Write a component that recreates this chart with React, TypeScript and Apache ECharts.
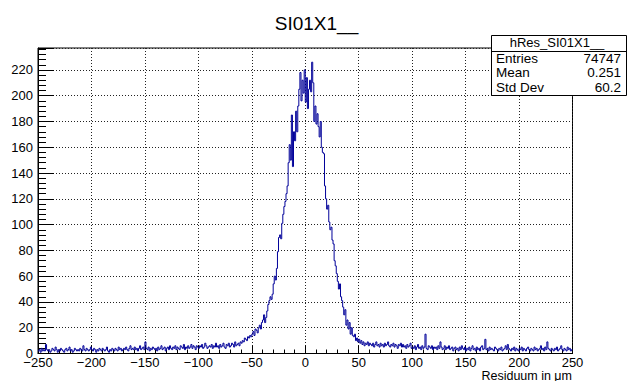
import React, { useEffect, useRef } from "react";
import * as echarts from "echarts";

const chartTitle = "SI01X1__";
const xAxisTitle = "Residuum in μm";
const xMin = -250;
const xMax = 250;
const binWidth = 1;
const xInterval = 50;
const yMin = 0;
const yMax = 237;
const yInterval = 20;

const statsName = "hRes_SI01X1__";
const statsLabels = ["Entries", "Mean", "Std Dev"];
const statsValues = ["74747", "0.251", "60.2"];

// bin contents, one per 1 µm bin, starting at -250
const counts = [
  2, 3, 1, 4, 2, 3, 2, 7, 3, 2,
  3, 1, 2, 4, 3, 2, 5, 3, 1, 3,
  2, 4, 3, 2, 1, 3, 4, 2, 3, 5,
  2, 3, 1, 2, 4, 3, 2, 3, 2, 4,
  3, 2, 6, 3, 2, 4, 3, 2, 3, 5,
  3, 2, 4, 3, 1, 3, 2, 4, 3, 2,
  4, 3, 2, 3, 5, 2, 1, 3, 2, 4,
  3, 2, 4, 3, 2, 5, 3, 4, 2, 3,
  4, 3, 5, 3, 2, 4, 6, 3, 4, 3,
  5, 3, 4, 2, 4, 6, 3, 4, 5, 3,
  9, 4, 3, 5, 2, 4, 3, 5, 4, 3,
  4, 2, 5, 3, 4, 6, 3, 4, 5, 2,
  4, 5, 3, 6, 4, 3, 5, 4, 6, 3,
  5, 4, 3, 6, 5, 4, 7, 3, 5, 4,
  6, 4, 5, 7, 4, 6, 5, 3, 6, 5,
  4, 6, 5, 7, 4, 5, 8, 6, 4, 5,
  6, 5, 7, 4, 6, 5, 8, 5, 6, 4,
  7, 5, 6, 8, 5, 4, 7, 6, 8, 5,
  6, 8, 7, 5, 9, 6, 7, 8, 6, 9,
  8, 10, 9, 12, 11, 10, 13, 12, 14, 13,
  15, 17, 14, 19, 18, 16, 20, 22, 19, 24,
  26, 30, 24, 28, 33, 38, 41, 44, 42, 46,
  54, 60, 57, 66, 79, 90, 92, 89, 101, 108,
  114, 118, 124, 130, 148, 162, 150, 185, 145, 172,
  165, 188, 172, 192, 205, 218, 196, 212, 202, 220,
  195, 214, 190, 205, 212, 203, 226, 210, 180, 192,
  178, 186, 176, 168, 180, 160, 156, 155, 130, 120,
  112, 115, 102, 96, 98, 88, 85, 72, 68, 62,
  56, 50, 54, 44, 41, 36, 30, 34, 22, 26,
  19, 24, 15, 20, 14, 13, 15, 10, 12, 9,
  11, 8, 10, 7, 9, 6, 8, 7, 9, 6,
  8, 7, 6, 8, 5, 7, 9, 6, 7, 5,
  8, 6, 7, 5, 8, 6, 7, 9, 6, 5,
  7, 6, 8, 5, 7, 6, 4, 7, 6, 8,
  5, 7, 5, 6, 4, 7, 5, 6, 8, 4,
  5, 4, 6, 3, 5, 7, 4, 5, 3, 6,
  4, 5, 15, 4, 3, 6, 5, 4, 6, 3,
  5, 4, 5, 3, 6, 4, 9, 5, 3, 4,
  6, 3, 5, 4, 6, 3, 4, 5, 2, 4,
  5, 3, 4, 2, 5, 3, 6, 4, 3, 5,
  2, 4, 3, 5, 2, 4, 6, 3, 4, 2,
  5, 3, 4, 2, 5, 6, 3, 4, 11, 3,
  4, 2, 5, 3, 4, 3, 2, 5, 4, 3,
  2, 4, 3, 5, 2, 3, 4, 6, 3, 7,
  4, 3, 2, 4, 3, 5, 2, 4, 3, 2,
  4, 3, 5, 2, 4, 3, 2, 4, 5, 3,
  2, 4, 3, 2, 5, 3, 4, 2, 3, 4,
  6, 3, 4, 2, 5, 3, 9, 4, 3, 2,
  4, 3, 2, 4, 3, 5, 2, 3, 4, 6,
  3, 2, 4, 3, 2, 5, 3, 4, 2, 3,
];

const FONT = "'Liberation Sans', Arial, Helvetica, sans-serif";
const minus = (v: number) => String(v).replace("-", "\u2212");

export default function App() {
  const ref = useRef<HTMLDivElement>(null);

  useEffect(() => {
    document.body.style.margin = "0";
    const chart = echarts.init(ref.current!, null, { renderer: "svg" });
    const data: number[][] = counts.map((c, i) => [xMin + i * binWidth, c]);
    data.push([xMin + counts.length * binWidth, counts[counts.length - 1]]);

    const rowY = [58, 72.5, 87];
    const statsGraphics: any[] = [];
    statsLabels.forEach((lab, i) => {
      statsGraphics.push({
        type: "text",
        x: 496,
        y: rowY[i],
        z: 101,
        style: { text: lab, align: "left", verticalAlign: "middle", fontSize: 13.5, fill: "#000", fontFamily: FONT },
      });
      statsGraphics.push({
        type: "text",
        x: 621,
        y: rowY[i],
        z: 101,
        style: { text: statsValues[i], align: "right", verticalAlign: "middle", fontSize: 13.5, fill: "#000", fontFamily: FONT },
      });
    });

    chart.setOption({
      animation: false,
      backgroundColor: "#fff",
      textStyle: { fontFamily: FONT },
      title: {
        text: chartTitle,
        left: "center",
        top: 9,
        textStyle: { fontSize: 19, fontWeight: "normal", color: "#000", fontFamily: FONT },
      },
      grid: {
        left: 38,
        right: 60.5,
        top: 48,
        bottom: 27.5,
        show: true,
        borderColor: "#000",
        borderWidth: 1,
        backgroundColor: "transparent",
      },
      xAxis: {
        type: "value",
        min: xMin,
        max: xMax,
        interval: xInterval,
        axisLine: { show: true, onZero: false, lineStyle: { color: "#000", width: 1 } },
        axisTick: { show: true, inside: true, length: 8, lineStyle: { color: "#000", width: 1 } },
        minorTick: { show: true, splitNumber: 5, length: 4, lineStyle: { color: "#000", width: 1 } },
        axisLabel: { color: "#000", fontSize: 13, margin: 2, lineHeight: 13, fontFamily: FONT, formatter: minus },
        splitLine: { show: true, lineStyle: { color: "#222", width: 1, type: [1, 2] } },
      },
      yAxis: {
        type: "value",
        min: yMin,
        max: yMax,
        interval: yInterval,
        axisLine: { show: true, onZero: false, lineStyle: { color: "#000", width: 1 } },
        axisTick: { show: true, inside: true, length: 16, lineStyle: { color: "#000", width: 1 } },
        minorTick: { show: true, splitNumber: 5, length: 8, lineStyle: { color: "#000", width: 1 } },
        axisLabel: { color: "#000", fontSize: 13, margin: 5, lineHeight: 13, showMaxLabel: false, fontFamily: FONT },
        splitLine: { show: true, lineStyle: { color: "#222", width: 1, type: [1, 2] } },
      },
      series: [
        {
          type: "line",
          step: "end",
          data,
          symbol: "none",
          clip: true,
          lineStyle: { color: "#000099", width: 1 },
          z: 5,
        },
      ],
      graphic: [
        {
          type: "rect",
          z: 100,
          shape: { x: 491.5, y: 35.5, width: 135, height: 60 },
          style: { fill: "#fff", stroke: "#000", lineWidth: 1 },
        },
        {
          type: "line",
          z: 100,
          shape: { x1: 491.5, y1: 51.5, x2: 626.5, y2: 51.5 },
          style: { stroke: "#000", lineWidth: 1 },
        },
        {
          type: "text",
          x: 557,
          y: 42,
          z: 101,
          style: { text: statsName, align: "center", verticalAlign: "middle", fontSize: 13, fill: "#000", fontFamily: FONT },
        },
        ...statsGraphics,
        {
          type: "text",
          x: 572,
          y: 375.5,
          style: { text: xAxisTitle, align: "right", verticalAlign: "middle", fontSize: 12.5, fill: "#000", fontFamily: FONT },
        },
      ],
    });
    return () => chart.dispose();
  }, []);

  return <div ref={ref} style={{ position: "absolute", left: 0, top: 0, width: 633, height: 381 }} />;
}
